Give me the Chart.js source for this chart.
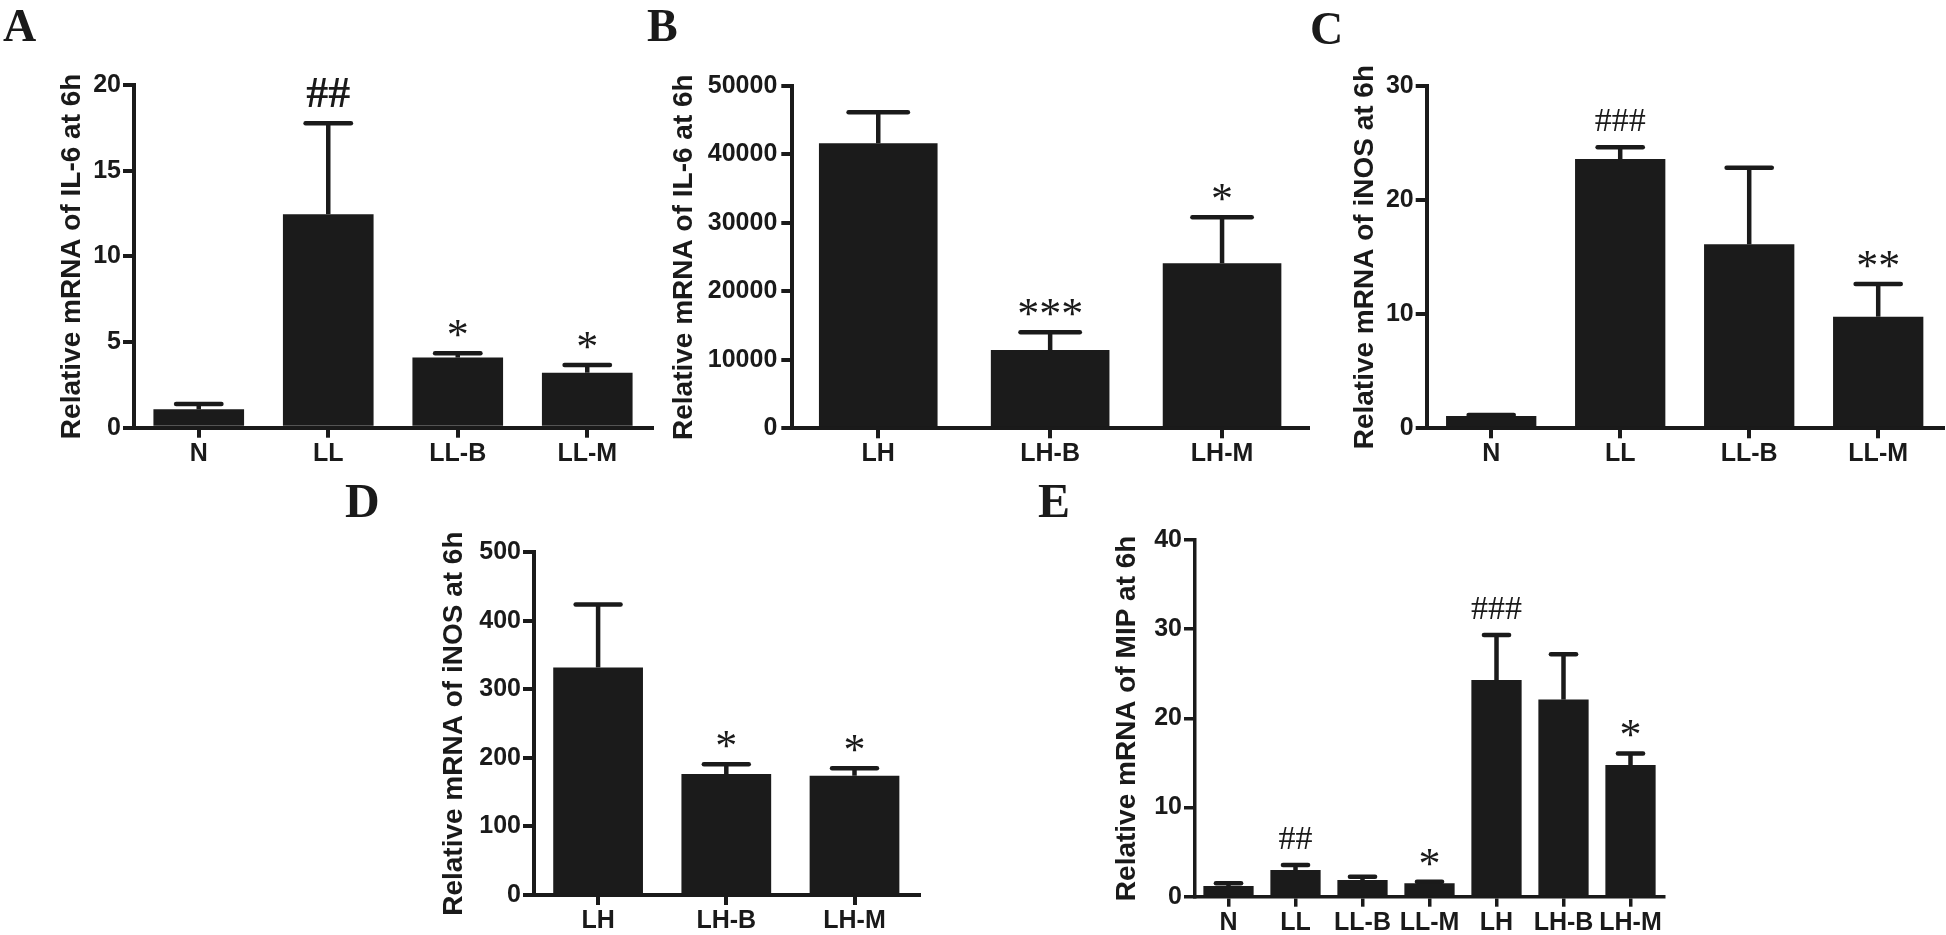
<!DOCTYPE html>
<html>
<head>
<meta charset="utf-8">
<script src="https://cdn.jsdelivr.net/npm/chart.js@4.4.1/dist/chart.umd.min.js"></script>
<style>
  html, body { margin: 0; padding: 0; background: #fff; }
  body { width: 1946px; height: 935px; position: relative; overflow: hidden; }
  canvas { position: absolute; }
</style>
</head>
<body>
<canvas id="chartA"></canvas>
<canvas id="chartB"></canvas>
<canvas id="chartC"></canvas>
<canvas id="chartD"></canvas>
<canvas id="chartE"></canvas>
<script>
// A - IL-6, low dose groups
const labelsA = ['N', 'LL', 'LL-B', 'LL-M'];
const meanA = [1.07, 12.46, 4.09, 3.21];
const semA = [0.31, 5.31, 0.25, 0.45];
const marksA = ['', '##', '*', '*'];
const ticksA = [0, 5, 10, 15, 20];

// B - IL-6, high dose groups
const labelsB = ['LH', 'LH-B', 'LH-M'];
const meanB = [41630, 11440, 24100];
const semB = [4530, 2580, 6720];
const marksB = ['', '***', '*'];
const ticksB = [0, 10000, 20000, 30000, 40000, 50000];

// C - iNOS, low dose groups
const labelsC = ['N', 'LL', 'LL-B', 'LL-M'];
const meanC = [1.08, 23.6, 16.12, 9.78];
const semC = [0.09, 1.03, 6.72, 2.87];
const marksC = ['', '###', '', '**'];
const ticksC = [0, 10, 20, 30];

// D - iNOS, high dose groups
const labelsD = ['LH', 'LH-B', 'LH-M'];
const meanD = [332, 176.5, 174];
const semD = [92, 14.2, 10.8];
const marksD = ['', '*', '*'];
const ticksD = [0, 100, 200, 300, 400, 500];

// E - MIP, all groups
const labelsE = ['N', 'LL', 'LL-B', 'LL-M', 'LH', 'LH-B', 'LH-M'];
const meanE = [1.2, 2.99, 1.87, 1.5, 24.3, 22.1, 14.77];
const semE = [0.3, 0.56, 0.37, 0.18, 5.05, 5.1, 1.3];
const marksE = ['', '##', '', '*', '###', '', '*'];
const ticksE = [0, 10, 20, 30, 40];

const ink = '#1a1a1a';
const sans = "'Liberation Sans', Arial, sans-serif";
const serif = "'Liberation Serif', 'Times New Roman', serif";

// error bars (mean + SEM) and significance marks above them
function errorBars(p) {
  return {
    id: 'errorBars',
    afterDatasetsDraw(chart) {
      const ctx = chart.ctx;
      const y = chart.scales.y;
      const bars = chart.getDatasetMeta(0).data;
      ctx.save();
      ctx.strokeStyle = ink;
      ctx.fillStyle = ink;
      ctx.lineWidth = 4.5;
      bars.forEach((bar, i) => {
        const top = y.getPixelForValue(p.mean[i] + p.sem[i]);
        const base = y.getPixelForValue(p.mean[i]);
        const half = bar.width / 4;
        ctx.lineCap = 'butt';
        ctx.beginPath(); ctx.moveTo(bar.x, base); ctx.lineTo(bar.x, top); ctx.stroke();
        ctx.lineCap = 'round';
        ctx.beginPath(); ctx.moveTo(bar.x - half, top); ctx.lineTo(bar.x + half, top); ctx.stroke();
        const mark = p.marks[i];
        if (mark) {
          ctx.font = mark.includes('#') ? p.hashFont : 'normal 44px ' + serif;
          ctx.textAlign = 'center';
          ctx.textBaseline = 'alphabetic';
          const m = ctx.measureText(mark);
          ctx.fillText(mark, bar.x, top - 16 - m.actualBoundingBoxDescent);
        }
      });
      ctx.restore();
    }
  };
}

// panel letter, placed by its ink box
function panelLetter(p) {
  return {
    id: 'panelLetter',
    afterDraw(chart) {
      const ctx = chart.ctx;
      ctx.save();
      ctx.font = 'bold ' + p.letterSize + 'px ' + serif;
      ctx.fillStyle = ink;
      ctx.textAlign = 'left';
      ctx.textBaseline = 'alphabetic';
      const m = ctx.measureText(p.letter);
      ctx.fillText(p.letter, p.lx - p.cx + m.actualBoundingBoxLeft, p.ly - p.cy + m.actualBoundingBoxAscent);
      ctx.restore();
    }
  };
}

function makePanel(p) {
  const el = document.getElementById(p.id);
  el.width = p.w;
  el.height = p.h;
  el.style.left = p.cx + 'px';
  el.style.top = p.cy + 'px';
  const xAxisH = 50;
  const tickFont = { family: sans, size: 25, weight: 'bold' };
  return new Chart(el, {
    type: 'bar',
    data: {
      labels: p.labels,
      datasets: [{
        data: p.mean,
        backgroundColor: '#1b1b1b',
        borderWidth: 0,
        barPercentage: p.barPct,
        categoryPercentage: 1
      }]
    },
    options: {
      responsive: false,
      animation: false,
      devicePixelRatio: 1,
      layout: {
        padding: { left: 0, top: p.T - p.cy, right: p.cx + p.w - p.R, bottom: p.cy + p.h - p.B - xAxisH }
      },
      plugins: { legend: { display: false }, tooltip: { enabled: false } },
      scales: {
        x: {
          offset: true,
          grid: { display: true, offset: false, drawOnChartArea: false, drawTicks: true, tickLength: 10, lineWidth: p.lw, color: ink },
          border: { display: true, width: p.lw, color: ink },
          ticks: { autoSkip: false, maxRotation: 0, minRotation: 0, color: ink, font: tickFont, padding: 1 },
          afterFit: s => { s.height = xAxisH; }
        },
        y: {
          min: 0,
          max: p.ticks[p.ticks.length - 1],
          afterBuildTicks: s => { s.ticks = p.ticks.map(v => ({ value: v })); },
          grid: { display: true, drawOnChartArea: false, drawTicks: true, tickLength: 11, lineWidth: p.lw, color: ink },
          border: { display: true, width: p.lw, color: ink },
          ticks: { color: ink, font: tickFont, padding: p.tickPad, callback: v => String(v) },
          title: {
            display: true,
            text: p.title,
            color: ink,
            font: { family: sans, size: 28, weight: 'bold' },
            padding: { top: p.titleX - p.cx - 16.8, bottom: 0 }
          },
          afterFit: s => { s.width = p.L - p.cx; }
        }
      }
    },
    plugins: [errorBars(p), panelLetter(p)]
  });
}

makePanel({
  id: 'chartA', labels: labelsA, mean: meanA, sem: semA, marks: marksA, ticks: ticksA,
  title: 'Relative mRNA of IL-6 at 6h', letter: 'A', letterSize: 46, lx: 3, ly: 10,
  cx: 0, cy: 0, w: 680, h: 480, L: 134, R: 652, T: 85, B: 427.7, titleX: 72,
  barPct: 0.70, lw: 4, tickPad: 2, hashFont: 'bold 44px ' + serif
});
makePanel({
  id: 'chartB', labels: labelsB, mean: meanB, sem: semB, marks: marksB, ticks: ticksB,
  title: 'Relative mRNA of IL-6 at 6h', letter: 'B', letterSize: 46, lx: 647, ly: 10,
  cx: 640, cy: 0, w: 680, h: 480, L: 792.3, R: 1308, T: 86, B: 428.3, titleX: 684,
  barPct: 0.69, lw: 4, tickPad: 4, hashFont: 'normal 34px ' + serif
});
makePanel({
  id: 'chartC', labels: labelsC, mean: meanC, sem: semC, marks: marksC, ticks: ticksC,
  title: 'Relative mRNA of iNOS at 6h', letter: 'C', letterSize: 46, lx: 1312, ly: 13,
  cx: 1300, cy: 0, w: 646, h: 480, L: 1426.7, R: 1942.7, T: 86, B: 428.3, titleX: 1365,
  barPct: 0.70, lw: 4, tickPad: 2, hashFont: 'normal 34px ' + serif
});
makePanel({
  id: 'chartD', labels: labelsD, mean: meanD, sem: semD, marks: marksD, ticks: ticksD,
  title: 'Relative mRNA of iNOS at 6h', letter: 'D', letterSize: 48, lx: 345, ly: 485,
  cx: 340, cy: 470, w: 600, h: 465, L: 534, R: 918.6, T: 552.3, B: 895, titleX: 454,
  barPct: 0.70, lw: 4, tickPad: 2, hashFont: 'normal 34px ' + serif
});
makePanel({
  id: 'chartE', labels: labelsE, mean: meanE, sem: semE, marks: marksE, ticks: ticksE,
  title: 'Relative mRNA of MIP at 6h', letter: 'E', letterSize: 48, lx: 1038, ly: 485,
  cx: 1030, cy: 470, w: 660, h: 465, L: 1195, R: 1664, T: 540, B: 896.7, titleX: 1127,
  barPct: 0.75, lw: 3.5, tickPad: 2, hashFont: 'normal 34px ' + serif
});
</script>
</body>
</html>
